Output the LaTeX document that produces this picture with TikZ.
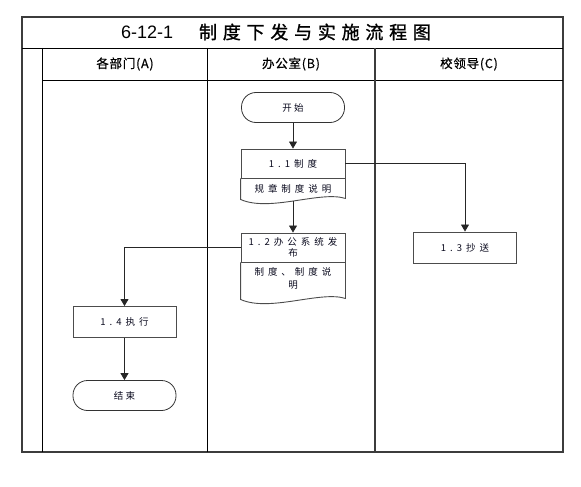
\documentclass[tikz,border=0pt]{standalone}
\usepackage{fontspec}
\setmainfont{Liberation Sans}
\newfontfamily\cjk{Noto Sans CJK SC}
\newfontfamily\titlefont[LetterSpace=32,FakeBold=1.2]{Noto Sans CJK SC}
\newfontfamily\headfont[LetterSpace=6,FakeBold=0.6]{Noto Sans CJK SC}
\newfontfamily\boxfont[LetterSpace=42]{Noto Sans CJK SC}
\newfontfamily\termfont[LetterSpace=22]{Noto Sans CJK SC}
\usetikzlibrary{arrows.meta,positioning,calc}
\definecolor{lanegray}{RGB}{60,60,60}
\definecolor{flowtext}{RGB}{10,10,30}
\tikzset{
  lane/.style={draw=lanegray, line width=1.5pt},
  thinlane/.style={draw=black, line width=0.9pt},
  header/.style={font=\headfont\fontsize{12.5}{14}\selectfont},
  terminal/.style={
    draw=black!80,
    line width=0.8pt,
    rounded corners=14.5pt,
    minimum width=103pt,
    minimum height=30pt,
    inner sep=0pt,
    text=flowtext,
    font=\termfont\fontsize{9.5}{11}\selectfont
  },
  procbox/.style={
    draw=black!70,
    line width=0.9pt,
    minimum width=103pt,
    minimum height=31pt,
    inner sep=0pt,
    text=flowtext,
    font=\boxfont\fontsize{9.5}{11}\selectfont
  },
  doctop/.style={
    draw=black!70,
    line width=0.9pt,
    minimum width=104pt,
    minimum height=29pt,
    inner sep=0pt,
    align=center,
    text=flowtext,
    font=\boxfont\fontsize{9.5}{11}\selectfont
  },
  docnote/.style={
    inner sep=0pt,
    align=center,
    text=flowtext,
    font=\boxfont\fontsize{9.5}{13}\selectfont
  },
  docbody/.style={draw=black!70, line width=0.9pt},
  arr/.style={-{Triangle[length=7pt,width=8pt]}, line width=0.8pt, black!85}
}

\begin{document}
\begin{tikzpicture}[x=1pt, y=-1pt]
  \useasboundingbox (0,0) rectangle (581,487);

  % table frame and lanes
  \draw[lane] (22,17) rectangle (563,452);
  \draw[thinlane] (22,48) -- (563,48);
  \draw[thinlane] (42,80) -- (563,80);
  \draw[thinlane] (42,48) -- (42,452);
  \draw[thinlane] (207,48) -- (207,452);
  \draw[lane] (375,48) -- (375,452);

  \node (title) at (276,32) {\fontsize{18}{20}\selectfont 6-12-1\hspace{26pt}\titlefont 制度下发与实施流程图};
  \node[header] (laneA) at (125,64) {各部门(A)};
  \node[header] (laneB) at (291,64) {办公室(B)};
  \node[header] (laneC) at (469,64) {校领导(C)};

  % flow nodes
  \node[terminal] (start) at (293,107.5) {开始};

  \node[doctop] (d11) at (293,163.5) {1.1制度};
  \node[docnote] (d11n) at (293,189) {规章制度说明};
  \draw[docbody] (d11.south east) -- ($(d11.south east)+(0,20)$)
    .. controls ($(d11.south east)+(-25,12)$) and ($(d11.south west)+(29,34)$) .. ($(d11.south west)+(0,21)$)
    -- (d11.south west);
  \coordinate (d11b) at ($(d11.south)+(0,22.5)$);

  \node[doctop] (d12) at (293,247.5) {1.2办公系统发\\布};
  \node[docnote] (d12n) at (293,278) {制度、制度说\\明};
  \draw[docbody] (d12.south east) -- ($(d12.south east)+(0,36)$)
    .. controls ($(d12.south east)+(-25,28)$) and ($(d12.south west)+(29,50)$) .. ($(d12.south west)+(0,37)$)
    -- (d12.south west);

  \node[procbox] (c13) at (465,247.5) {1.3抄送};
  \node[procbox] (a14) at (124.5,322) {1.4执行};
  \node[terminal] (finish) at (124.5,395.5) {结束};

  % connectors
  \draw[arr] (start) -- (d11);
  \draw[arr] (d11b) -- (d12);
  \draw[arr] (d11.east) -| (c13.north);
  \draw[arr] (d12.west) -| (a14.north);
  \draw[arr] (a14) -- (finish);
\end{tikzpicture}
\end{document}
